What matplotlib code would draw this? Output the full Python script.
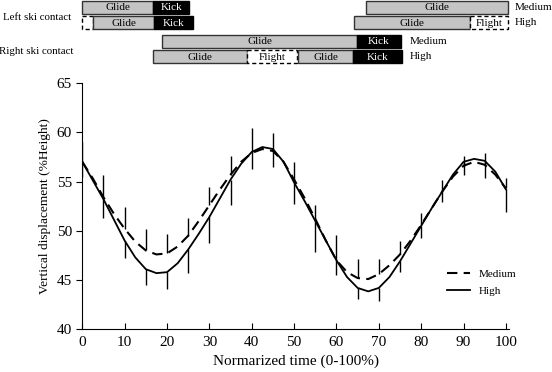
import matplotlib
matplotlib.use("Agg")
import matplotlib.pyplot as plt
from matplotlib.patches import Rectangle
import numpy as np

plt.rcParams['font.family'] = ['Liberation Serif', 'DejaVu Serif']

# normalized time (% of cycle), curve read every 2.5 %
t = [0, 2.5, 5, 7.5, 10, 12.5, 15, 17.5, 20, 22.5, 25, 27.5, 30, 32.5, 35, 37.5, 40,
     42.5, 45, 47.5, 50, 52.5, 55, 57.5, 60, 62.5, 65, 67.5, 70, 72.5, 75, 77.5, 80,
     82.5, 85, 87.5, 90, 92.5, 95, 97.5, 100]

# vertical displacement (%Height)
medium = [57.0, 55.3, 53.4, 51.7, 50.2, 48.9, 48.0, 47.6, 47.7, 48.4, 49.5, 51.0, 52.6,
          54.2, 55.7, 57.0, 57.9, 58.3, 58.1, 57.0, 55.2, 53.3, 51.2, 49.0, 47.0, 45.8,
          45.2, 45.1, 45.6, 46.5, 47.6, 49.0, 50.6, 52.3, 54.0, 55.5, 56.6, 57.0, 56.7,
          55.7, 54.3]
high = [57.0, 55.1, 53.2, 51.1, 49.0, 47.3, 46.1, 45.7, 45.8, 46.7, 48.1, 49.7, 51.4,
        53.3, 55.2, 56.8, 58.0, 58.5, 58.3, 57.0, 54.9, 53.0, 51.0, 49.0, 47.0, 45.3,
        44.2, 43.85, 44.2, 45.3, 46.9, 48.7, 50.5, 52.3, 54.0, 55.7, 57.0, 57.3, 57.1,
        56.0, 54.2]

# SD bars every 5 % (Medium drawn up, High drawn down)
medium_sd = [2.0, 2.3, 2.2, 2.2, 2.0, 1.8, 1.8, 1.9, 2.5, 1.8, 1.8,
             1.4, 2.6, 1.9, 1.5, 1.4, 1.2, 1.2, 1.0, 1.2, 1.1]
high_sd = [1.55, 1.9, 1.8, 1.6, 1.7, 2.4, 2.6, 2.6, 1.7, 1.8, 2.15,
           3.2, 1.5, 1.1, 1.3, 1.1, 1.2, 1.1, 1.3, 1.7, 2.3]

# ski contact phases (start, end in % of cycle)
left_medium = [("Glide", 0, 16.8), ("Kick", 16.8, 25.3), ("Glide", 67.0, 100.5)]
left_high = [("Flight", 0, 2.6), ("Glide", 2.6, 16.9), ("Kick", 16.9, 26.2),
             ("Glide", 64.2, 91.6), ("Flight", 91.6, 100.5)]
right_medium = [("Glide", 18.9, 64.8), ("Kick", 64.8, 75.2)]
right_high = [("Glide", 16.6, 38.8), ("Flight", 38.8, 50.6), ("Glide", 51.0, 63.8),
              ("Kick", 63.8, 75.4)]

W, H = 552, 372
fig = plt.figure(figsize=(W / 100, H / 100), dpi=100)

x0, x1 = 82.3, 509.3
ax = fig.add_axes([x0 / W, 1 - 329.3 / H, (x1 - x0) / W, (329.3 - 83) / H])

ax.plot(t, medium, color='black', lw=1.5, dashes=(5, 3), label='Medium')
ax.plot(t, high, color='black', lw=1.3, label='High')
tb = t[::2]
zeros = np.zeros(len(tb))
ax.errorbar(tb, medium[::2], yerr=[zeros, medium_sd], fmt='none', ecolor='black',
            elinewidth=1.0, capsize=0)
ax.errorbar(tb, high[::2], yerr=[high_sd, zeros], fmt='none', ecolor='black',
            elinewidth=1.0, capsize=0)

ax.set_xlim(0, 100.8)
ax.set_ylim(40, 65)
ax.set_xticks(range(0, 101, 10))
ax.set_yticks(range(40, 66, 5))
ax.spines['top'].set_visible(False)
ax.spines['right'].set_visible(False)
ax.tick_params(axis='x', direction='in', length=4, labelsize=11, pad=5)
ax.tick_params(axis='y', direction='out', length=4, labelsize=11)
ax.set_xlabel("Normarized time (0-100%)", fontsize=11)
ax.set_ylabel("Vertical displacement (%Height)", fontsize=9.6)
ax.legend(loc='center left', bbox_to_anchor=(0.83, 0.19), frameon=False,
          fontsize=8, handlelength=2.1, labelspacing=0.6)

# contact phase bars
bx = fig.add_axes([x0 / W, 1 - 66 / H, (x1 - x0) / W, 66 / H])
bx.set_xlim(0, 100.8)
bx.set_ylim(66, 0)
bx.axis('off')

rows = [(left_medium, 1.0), (left_high, 16.0), (right_medium, 34.5), (right_high, 50.0)]
hgt = 13
for segs, y in rows:
    for name, a, b in segs:
        if name == "Glide":
            r = Rectangle((a, y), b - a, hgt, facecolor='#c4c4c4', edgecolor='#333333', lw=1.0)
            tc = 'black'
        elif name == "Kick":
            r = Rectangle((a, y), b - a, hgt, facecolor='black', edgecolor='black', lw=1.0)
            tc = 'white'
        else:
            r = Rectangle((a, y), b - a, hgt, facecolor='white', edgecolor='black',
                          lw=1.0, linestyle=(0, (3, 2)))
            tc = 'black'
        r.set_clip_on(False)
        bx.add_patch(r)
        if b - a > 5:
            bx.text((a + b) / 2, y + hgt / 2 + 0.5, name, ha='center', va='center',
                    fontsize=8, color=tc, clip_on=False)

bx.text(102.0, 7.5, "Medium", ha='left', va='center', fontsize=8, clip_on=False)
bx.text(102.0, 22.5, "High", ha='left', va='center', fontsize=8, clip_on=False)
bx.text(77.4, 41.0, "Medium", ha='left', va='center', fontsize=8, clip_on=False)
bx.text(77.4, 56.5, "High", ha='left', va='center', fontsize=8, clip_on=False)
fig.text(37 / W, 1 - 17 / H, "Left ski contact", ha='center', va='center', fontsize=7.8)
fig.text(36 / W, 1 - 52 / H, "Right ski contact", ha='center', va='center', fontsize=7.8)

fig.savefig("out.png", dpi=100)
